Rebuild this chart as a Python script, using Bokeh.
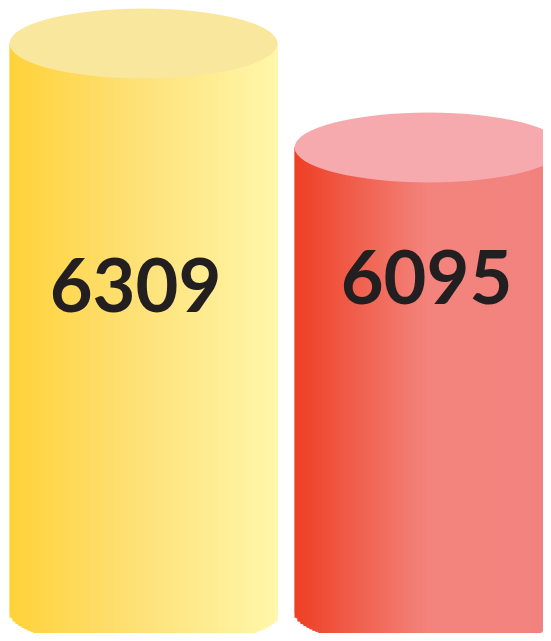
import numpy as np
from bokeh.plotting import figure
from bokeh.models import Range1d
from bokeh.core.properties import value
from bokeh.embed import file_html
from bokeh.resources import INLINE

# ---- data ----
labels = ["6309", "6095"]
values = [6309, 6095]
positions = [0, 1]
side_left = ["#FFD23A", "#EE3F24"]
side_mid = ["#FEE27A", "#F3847D"]
side_right = ["#FFF7AA", "#F2827E"]
top_colors = ["#F9E79E", "#F6AAAD"]

W, H = 543, 633
Y0, Y1 = 5095, 6397.5
BASE = 5138.2
X0 = -143 / 285.0
X1 = X0 + W / 285.0

p = figure(width=W, height=H, output_backend="svg", toolbar_location=None,
           x_range=Range1d(X0, X1), y_range=Range1d(Y0, Y1), min_border=0)
p.axis.visible = False
p.grid.visible = False
p.outline_line_color = None
p.background_fill_color = "white"
p.border_fill_color = "white"

px_y = H / (Y1 - Y0)      # px per value unit
px_x = W / (X1 - X0)      # px per x unit
rx = 134 / px_x           # half width in x units
ry_px = 35
ry = ry_px / px_y


def hex2rgb(h):
    h = h.lstrip("#")
    return np.array([int(h[i:i + 2], 16) for i in (0, 2, 4)], dtype=float)


def grad(c0, c1, c2, t):
    a, b, c = hex2rgb(c0), hex2rgb(c1), hex2rgb(c2)
    out = []
    for tt in t:
        if tt < 0.5:
            col = a + (b - a) * (tt / 0.5)
        else:
            col = b + (c - b) * ((tt - 0.5) / 0.5)
        out.append("#%02x%02x%02x" % tuple(int(round(v)) for v in col))
    return out


N = 90
for i, (xc, v) in enumerate(zip(positions, values)):
    edges = np.linspace(xc - rx, xc + rx, N + 1)
    lefts, rights = edges[:-1], edges[1:]
    mids = (lefts + rights) / 2
    t = (mids - (xc - rx)) / (2 * rx)
    cols = grad(side_left[i], side_mid[i], side_right[i], t)
    # solid underlay to hide seams
    xs = np.linspace(xc - rx, xc + rx, 200)
    dxs = np.clip((xs - xc) / rx, -1, 1)
    ys = BASE - ry * np.sqrt(1 - dxs ** 2)
    p.patch(x=np.concatenate([xs, [xc + rx, xc - rx]]),
            y=np.concatenate([ys, [v, v]]),
            fill_color=side_mid[i], line_color=None)
    dx = np.clip((mids - xc) / rx, -1, 1)
    bottoms = BASE - ry * np.sqrt(1 - dx ** 2)
    w = rights - lefts
    rr = np.minimum(rights + w, xc + rx)
    p.quad(left=lefts, right=rr, bottom=bottoms,
           top=[v] * N, fill_color=cols, line_color=None)
    p.ellipse(x=[xc], y=[v], width=2 * rx, height=2 * ry_px,
              height_units="screen", fill_color=top_colors[i], line_color=None)

p.text(x=[positions[0] - 8 / px_x, positions[1] - 2 / px_x],
       y=[Y0 + (H - 284) / px_y, Y0 + (H - 276) / px_y],
       text=labels, text_font=value("Lato"), text_font_style="bold",
       text_font_size="74px", text_color="#231F20",
       text_align="center", text_baseline="middle")

open("out.html", "w").write(file_html(p, INLINE))
